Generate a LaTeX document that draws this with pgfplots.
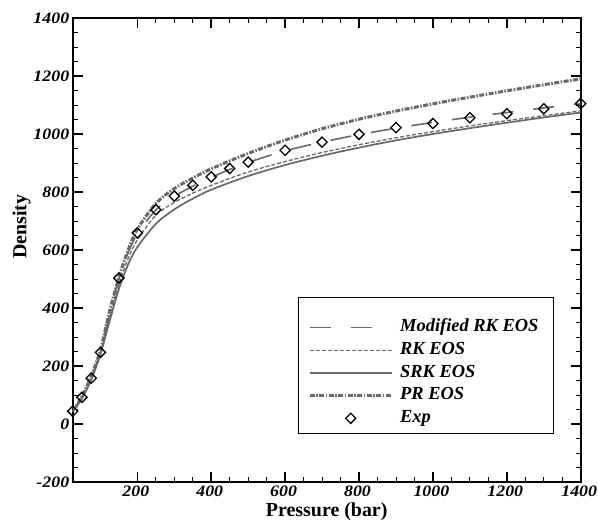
\documentclass[border=0pt]{standalone}
\usepackage{pgfplots}
\pgfplotsset{compat=1.18}
\usepackage{fontspec}
\setmainfont{Liberation Serif}
\newfontfamily\tickfont[FakeStretch=1.12]{Liberation Serif}
\definecolor{lg}{RGB}{105,105,105}
\pgfplotsset{explegend/.style={legend image code/.code={\draw[mark repeat=2, mark phase=2, ##1] plot coordinates {(0bp,0bp) (41bp,0bp) (82bp,0bp)};}}}
\begin{document}
\begin{tikzpicture}
\begin{axis}[
  scale only axis, width=508bp, height=464bp,
  xmin=25, xmax=1400, ymin=-200, ymax=1400,
  xtick={200,400,...,1400}, ytick={-200,0,...,1400},
  minor tick num=3,
  tick align=inside, tick pos=both,
  major tick length=10bp, minor tick length=5bp,
  every major tick/.append style={line width=1.6bp, black},
  every minor tick/.append style={line width=0.8bp, black},
  axis line style={line width=2bp},
  tick label style={font=\tickfont\fontsize{16}{16}\selectfont\bfseries\itshape},
  xticklabel style={xshift=-1.5bp},
  /pgf/number format/assume math mode=true,
  /pgf/number format/set thousands separator={},
  xlabel={Pressure (bar)}, ylabel={Density},
  label style={font=\fontsize{20}{20}\selectfont\bfseries},
  ylabel style={at={(ticklabel cs:0.55)}, anchor=south, yshift=-4bp},
  legend style={draw=none, fill=none, at={(rel axis cs:0.4632,0.3533)}, anchor=north west,
    inner sep=0pt, font=\fontsize{18.5}{18.5}\selectfont\bfseries\itshape,
    nodes={inner xsep=7bp, inner ysep=1bp, text height=12.5bp, text depth=4bp},
    row sep=4.2bp},
  legend cell align=left,
  legend image code/.code={\draw[#1] (0bp,0bp) -- (82bp,0bp);},
]
\draw[line width=0.8bp, fill=white] (rel axis cs:0.4435,0.1056) rectangle (rel axis cs:0.9455,0.3987);

% Modified RK EOS
\addplot[lg, line width=1.6bp, dash pattern=on 21bp off 20bp, smooth] coordinates {
(25,44) (50,92) (75,160) (100,248) (125,380) (150,500) (175,590) (200,655) (250,738)
(300,785) (350,820) (400,850) (450,878) (500,902) (600,942) (700,972) (800,998)
(900,1020) (1000,1040) (1100,1058) (1200,1074) (1300,1090) (1400,1104)};
\addlegendentry{Modified RK EOS}
% RK EOS
\addplot[lg, line width=1.3bp, dash pattern=on 4bp off 2bp, smooth] coordinates {
(25,43) (50,90) (75,155) (100,245) (125,365) (150,480) (175,570) (200,635) (250,720)
(300,764) (350,796) (400,823) (500,869) (600,905) (700,936) (800,963) (900,987)
(1000,1008) (1100,1028) (1200,1046) (1300,1063) (1400,1080)};
\addlegendentry{RK EOS}
% SRK EOS
\addplot[lg, line width=1.7bp, smooth] coordinates {
(25,42) (50,88) (75,152) (100,240) (125,355) (150,465) (175,550) (200,610) (250,690)
(300,740) (350,777) (400,808) (500,855) (600,893) (700,925) (800,953) (900,978)
(1000,1000) (1100,1020) (1200,1039) (1300,1057) (1400,1074)};
\addlegendentry{SRK EOS}
% PR EOS
\addplot[lg, line width=3bp, dash pattern=on 5bp off 1.5bp on 1.5bp off 1.5bp, smooth] coordinates {
(25,45) (50,95) (75,165) (100,255) (125,390) (150,505) (175,600) (200,672) (250,760)
(300,812) (350,848) (400,880) (500,933) (600,979) (700,1018) (800,1051) (900,1079)
(1000,1104) (1100,1127) (1200,1149) (1300,1170) (1400,1190)};
\addlegendentry{PR EOS}
% Exp
\addplot[only marks, mark=square, mark size=3.6bp, mark options={rotate=45, line width=1.3bp, black, fill=none}, explegend]
 coordinates {
(25,44) (50,92) (75,158) (100,247) (150,503) (200,659) (250,739) (300,786) (350,823)
(400,852) (450,881) (500,903) (600,944) (700,972) (800,999) (900,1022) (1000,1036)
(1100,1056) (1200,1070) (1300,1087) (1400,1105)};
\addlegendentry{Exp}
\end{axis}
\pgfresetboundingbox
\path (-72.7bp,-43bp) rectangle (525.3bp,482bp);
\end{tikzpicture}
\end{document}
